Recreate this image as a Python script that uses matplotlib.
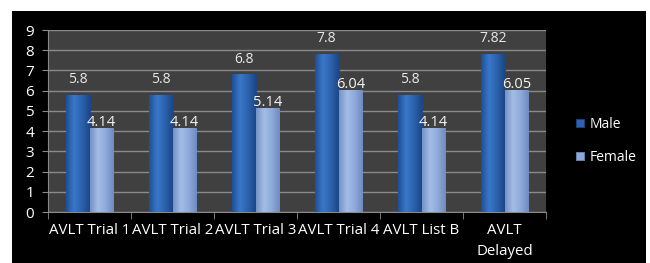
import matplotlib
matplotlib.use("Agg")
import matplotlib.pyplot as plt
import numpy as np
from matplotlib.patches import Rectangle
from matplotlib.colors import LinearSegmentedColormap

categories = ["AVLT Trial 1", "AVLT Trial 2", "AVLT Trial 3", "AVLT Trial 4", "AVLT List B", "AVLT\nDelayed"]
male = [5.8, 5.8, 6.8, 7.8, 5.8, 7.82]
female = [4.14, 4.14, 5.14, 6.04, 4.14, 6.05]
male_labels = ["5.8", "5.8", "6.8", "7.8", "5.8", "7.82"]
female_labels = ["4.14", "4.14", "5.14", "6.04", "4.14", "6.05"]

plt.rcParams['font.family'] = ['Open Sans', 'DejaVu Sans']

fig = plt.figure(figsize=(6.5, 2.63), dpi=100)
fig.patch.set_facecolor("white")
fig.patches.append(Rectangle((12/650, 0), (646-12)/650, (263-11)/263,
                             transform=fig.transFigure, facecolor="black",
                             edgecolor="none", zorder=-10))

ax = fig.add_axes([48/650, 1-212/263, (546-48)/650, (212-30)/263])
ax.set_zorder(5)
ax.set_facecolor("#404040")

x = np.arange(len(categories))
w = 0.285
mc = "#2e62ae"
fc = "#8da8d8"
bm = ax.bar(x - w/2, male, w, color=mc, edgecolor="#1c4584", linewidth=0.6, zorder=3)
bf = ax.bar(x + w/2, female, w, color=fc, edgecolor="#6c89bd", linewidth=0.6, zorder=3)

cm_m = LinearSegmentedColormap.from_list("m", ["#1f4f96", "#3a78c8", "#2c62ad", "#1c4787"])
cm_f = LinearSegmentedColormap.from_list("f", ["#7592c6", "#a3bde6", "#8eaadb", "#6e8bbf"])
grad = np.linspace(0, 1, 64).reshape(1, -1)
for bars, cmap in ((bm, cm_m), (bf, cm_f)):
    for b in bars:
        x0, y0 = b.get_x(), b.get_y()
        im = ax.imshow(grad, cmap=cmap, aspect="auto", zorder=3.5,
                       extent=(x0, x0 + b.get_width(), y0, y0 + b.get_height()),
                       interpolation="bicubic")
        im.set_clip_path(b)

for xi, v, t in zip(x, male, male_labels):
    ax.annotate(t, (xi - w/2, v), xytext=(0, 11), textcoords="offset points",
                ha="center", va="center", color="#e8e8e8", fontsize=10)
for xi, v, t in zip(x, female, female_labels):
    ax.annotate(t, (xi + w/2, v), xytext=(0, 4), textcoords="offset points",
                ha="center", va="center", color="#f4f4f4", fontsize=10.5, zorder=6)

ax.set_ylim(0, 9)
ax.set_xlim(-0.5, len(categories) - 0.5)
ax.set_yticks(range(0, 10))
ax.yaxis.grid(True, color="#8a8a8a", linewidth=1.0, zorder=1)
ax.set_axisbelow(True)
ax.set_xticks(x)
ax.set_xticklabels(categories, color="white", fontsize=10.8, linespacing=1.55)
ax.set_xticks(np.arange(-0.5, len(categories), 1), minor=True)
ax.tick_params(axis="x", which="major", length=0, pad=8)
ax.tick_params(axis="x", which="minor", length=5, color="#8a8a8a", direction="out")
ax.tick_params(axis="y", colors="white", labelsize=11, length=4, color="#8a8a8a", pad=6)
for s in ["top", "right"]:
    ax.spines[s].set_visible(False)
for s in ["left", "bottom"]:
    ax.spines[s].set_color("#8a8a8a")

leg = fig.legend([bm, bf], ["Male", "Female"], loc="center left",
                 bbox_to_anchor=(576/650, 1-141/263), frameon=False,
                 borderpad=0, borderaxespad=0,
                 labelcolor="white", fontsize=10, handlelength=0.55,
                 handleheight=0.55, handletextpad=0.45, labelspacing=1.3)

fig.savefig("out.png", dpi=100, facecolor=fig.get_facecolor())
